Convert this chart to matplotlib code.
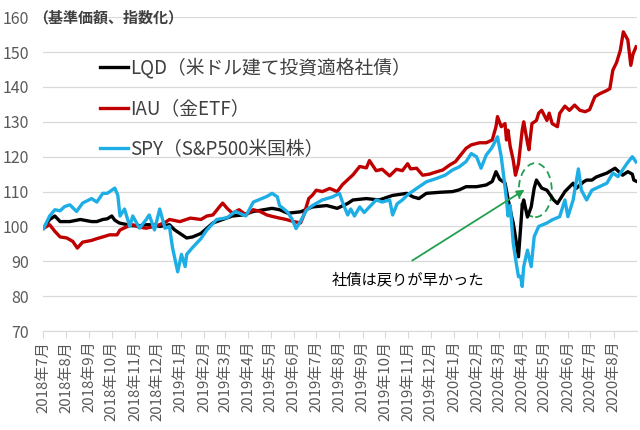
import matplotlib.pyplot as plt
import matplotlib.dates as mdates
from matplotlib.patches import Ellipse
import pandas as pd

plt.rcParams['font.family'] = ['Noto Sans CJK JP', 'DejaVu Sans']

# 基準価額（指数化）: 画像から読み取った値
lqd_dates = ['2018-07-02', '2018-07-10', '2018-07-17', '2018-07-24', '2018-08-06', '2018-08-20',
             '2018-09-04', '2018-09-11', '2018-09-19', '2018-09-25', '2018-10-01', '2018-10-05',
             '2018-10-11', '2018-10-22', '2018-10-29', '2018-11-07', '2018-11-16', '2018-11-26',
             '2018-12-04', '2018-12-17', '2018-12-24', '2018-12-31', '2019-01-09', '2019-01-17',
             '2019-01-28', '2019-02-05', '2019-02-13', '2019-02-26', '2019-03-11', '2019-03-25',
             '2019-04-08', '2019-04-22', '2019-05-03', '2019-05-13', '2019-05-24', '2019-06-10',
             '2019-06-26', '2019-07-15', '2019-07-29', '2019-08-12', '2019-08-19', '2019-09-06',
             '2019-09-23', '2019-10-11', '2019-10-30', '2019-11-07', '2019-11-15', '2019-11-25',
             '2019-12-13', '2019-12-30', '2020-01-08', '2020-01-17', '2020-01-31', '2020-02-13',
             '2020-02-21', '2020-02-26', '2020-03-02', '2020-03-09', '2020-03-13', '2020-03-18',
             '2020-03-20', '2020-03-23', '2020-03-27', '2020-03-30', '2020-04-01', '2020-04-03',
             '2020-04-06', '2020-04-08', '2020-04-13', '2020-04-17', '2020-04-20', '2020-04-27',
             '2020-05-04', '2020-05-13', '2020-05-18', '2020-05-28', '2020-06-08', '2020-06-12',
             '2020-06-22', '2020-06-26', '2020-07-03', '2020-07-09', '2020-07-23', '2020-08-03',
             '2020-08-13', '2020-08-20', '2020-08-26', '2020-08-28', '2020-08-31']
lqd_vals = [99.5, 102, 103, 101.4, 101.4, 102,
            101.4, 101.4, 102, 102.2, 103, 101.8,
            101, 100.5, 100.2, 100.2, 100.5, 100.5,
            100, 100.5, 99, 98, 96.7, 97,
            98, 99.5, 101, 102, 103, 103.3,
            104.3, 104.8, 105.2, 104.8, 103.8, 104.2,
            105.6, 106, 105.2, 106.6, 107.6, 108,
            107.6, 108.9, 109.5, 108.5, 108, 109.5,
            109.8, 110, 110.5, 111.4, 111.4, 111.9,
            112.9, 115.7, 113.5, 112.5, 108, 102.7,
            101, 97, 91.3, 100, 106, 107.6,
            104.7, 102.7, 105.6, 111, 113.3, 111,
            110.4, 107.6, 106.6, 110, 112.4, 110.9,
            112.8, 113.3, 113.3, 114.2, 115.3, 116.7,
            114.7, 115.7, 115, 113.3, 113]

iau_dates = ['2018-07-02', '2018-07-10', '2018-07-17', '2018-07-24', '2018-08-02', '2018-08-10',
             '2018-08-16', '2018-08-23', '2018-09-04', '2018-09-11', '2018-09-19', '2018-09-28',
             '2018-10-08', '2018-10-12', '2018-10-22', '2018-10-29', '2018-11-07', '2018-11-16',
             '2018-11-26', '2018-12-04', '2018-12-13', '2018-12-17', '2018-12-31', '2019-01-14',
             '2019-01-28', '2019-02-05', '2019-02-13', '2019-02-22', '2019-02-26', '2019-03-04',
             '2019-03-11', '2019-03-20', '2019-03-29', '2019-04-08', '2019-04-17', '2019-04-26',
             '2019-05-03', '2019-05-13', '2019-05-22', '2019-05-30', '2019-06-10', '2019-06-14',
             '2019-06-21', '2019-06-26', '2019-07-01', '2019-07-09', '2019-07-19', '2019-07-29',
             '2019-08-05', '2019-08-09', '2019-08-19', '2019-08-28', '2019-09-06', '2019-09-10',
             '2019-09-19', '2019-09-27', '2019-10-07', '2019-10-16', '2019-10-24', '2019-10-31',
             '2019-11-04', '2019-11-12', '2019-11-20', '2019-11-29', '2019-12-09', '2019-12-17',
             '2019-12-26', '2020-01-03', '2020-01-08', '2020-01-17', '2020-01-24', '2020-02-04',
             '2020-02-13', '2020-02-21', '2020-02-26', '2020-02-28', '2020-03-04', '2020-03-09',
             '2020-03-11', '2020-03-13', '2020-03-16', '2020-03-18', '2020-03-20', '2020-03-23',
             '2020-03-27', '2020-04-01', '2020-04-03', '2020-04-08', '2020-04-10', '2020-04-14',
             '2020-04-20', '2020-04-23', '2020-04-27', '2020-05-04', '2020-05-07', '2020-05-11',
             '2020-05-18', '2020-05-21', '2020-05-28', '2020-06-03', '2020-06-10', '2020-06-17',
             '2020-06-24', '2020-06-30', '2020-07-07', '2020-07-13', '2020-07-23', '2020-07-27',
             '2020-07-31', '2020-08-05', '2020-08-10', '2020-08-14', '2020-08-20', '2020-08-24',
             '2020-08-27', '2020-08-31']
iau_vals = [99.5, 100.5, 98.6, 97, 96.7, 95.7,
            93.8, 95.5, 96, 96.5, 97, 97.6,
            97.6, 99, 100, 100.5, 99.8, 99.5,
            100, 100.5, 101.4, 102, 101.4, 102.4,
            102, 103, 103.3, 105.7, 106.7, 105.2,
            103.8, 104.8, 103.3, 104.8, 104.3, 103.3,
            102.9, 102.4, 102, 101.5, 101, 103,
            108, 109, 110.4, 110, 110.9, 110,
            112, 112.8, 114.8, 117.2, 116.8, 118.9,
            116, 116.4, 114.5, 116.4, 116, 118,
            116.5, 116.7, 114.7, 115, 115.7, 116.2,
            117.6, 118.6, 120, 122.4, 123.4, 124,
            124, 124.8, 128.6, 131.5, 128.6, 129.5,
            124.8, 127.6, 122.9, 121, 119, 114.7,
            118, 127.6, 130, 124, 122, 129.5,
            130.4, 132.5, 133.3, 130.4, 132.5, 129.5,
            128.6, 132.4, 134.5, 133.3, 134.8, 133.3,
            132.9, 133.5, 137.2, 138, 139, 139.5,
            144.8, 147, 150.5, 155.8, 153.5, 146.2,
            149.5, 151.5]

spy_dates = ['2018-07-02', '2018-07-10', '2018-07-17', '2018-07-24', '2018-07-30', '2018-08-06',
             '2018-08-15', '2018-08-23', '2018-09-04', '2018-09-11', '2018-09-19', '2018-09-25',
             '2018-10-05', '2018-10-09', '2018-10-12', '2018-10-18', '2018-10-25', '2018-10-29',
             '2018-11-07', '2018-11-16', '2018-11-20', '2018-11-27', '2018-12-04', '2018-12-11',
             '2018-12-17', '2018-12-21', '2018-12-28', '2019-01-02', '2019-01-07', '2019-01-09',
             '2019-01-17', '2019-01-28', '2019-02-05', '2019-02-18', '2019-03-04', '2019-03-15',
             '2019-03-29', '2019-04-08', '2019-04-26', '2019-05-03', '2019-05-10', '2019-05-13',
             '2019-05-20', '2019-05-24', '2019-05-30', '2019-06-04', '2019-06-10', '2019-06-18',
             '2019-06-26', '2019-07-09', '2019-07-23', '2019-08-01', '2019-08-05', '2019-08-12',
             '2019-08-16', '2019-08-21', '2019-08-28', '2019-09-03', '2019-09-10', '2019-09-19',
             '2019-09-27', '2019-10-07', '2019-10-11', '2019-10-17', '2019-10-24', '2019-10-31',
             '2019-11-12', '2019-11-25', '2019-12-09', '2019-12-20', '2019-12-30', '2020-01-08',
             '2020-01-17', '2020-01-24', '2020-01-31', '2020-02-06', '2020-02-13', '2020-02-20',
             '2020-02-26', '2020-02-28', '2020-03-04', '2020-03-09', '2020-03-10', '2020-03-11',
             '2020-03-13', '2020-03-16', '2020-03-20', '2020-03-24', '2020-03-27', '2020-03-30',
             '2020-04-01', '2020-04-03', '2020-04-08', '2020-04-13', '2020-04-17', '2020-04-23',
             '2020-05-04', '2020-05-11', '2020-05-21', '2020-05-28', '2020-06-01', '2020-06-08',
             '2020-06-15', '2020-06-19', '2020-06-26', '2020-07-03', '2020-07-13', '2020-07-23',
             '2020-07-31', '2020-08-07', '2020-08-19', '2020-08-26', '2020-08-31']
spy_vals = [99.5, 103, 104.8, 104.5, 105.7, 106.2,
            104.3, 106.7, 108, 107, 109.5, 109.5,
            111, 109, 103, 105, 100, 103,
            99.5, 102, 103.3, 99, 105, 99.5,
            100, 94, 87, 92, 88.5, 92,
            94, 96.5, 99, 102, 102.5, 104.3,
            103, 107, 108.6, 109.5, 108.5, 106,
            104.8, 104, 102, 99.4, 101.5, 104.7,
            106, 107.6, 108.5, 109.5, 107, 103.3,
            105, 103, 105.6, 104, 105.6, 107.6,
            107, 107.6, 103.3, 106.5, 107.6, 109.1,
            110.9, 112.8, 113.8, 114.7, 116.2, 117.1,
            118.6, 120.9, 120, 116.7, 120.5, 122.4,
            124.8, 125.7, 120, 111.4, 109.5, 107.6,
            103, 106, 95.2, 89.5, 85.6, 85.7,
            82.8, 88.5, 93.2, 88.5, 97.1, 100,
            101, 101.9, 102.8, 107.6, 102.8, 107.6,
            116.5, 110.4, 107.6, 110.4, 111.4, 112.4,
            115.3, 114.3, 118.1, 120, 118.5]

series_names = ['LQD（米ドル建て投資適格社債）', 'IAU（金ETF）', 'SPY（S&P500米国株）']
series_colors = ['#000000', '#c00000', '#1eaee6']

month_starts = ['2018-07-01', '2018-08-01', '2018-09-01', '2018-10-01', '2018-11-01', '2018-12-01',
                '2019-01-01', '2019-02-01', '2019-03-01', '2019-04-01', '2019-05-01', '2019-06-01',
                '2019-07-01', '2019-08-01', '2019-09-01', '2019-10-01', '2019-11-01', '2019-12-01',
                '2020-01-01', '2020-02-01', '2020-03-01', '2020-04-01', '2020-05-01', '2020-06-01',
                '2020-07-01', '2020-08-01']
month_labels = ['2018年7月', '2018年8月', '2018年9月', '2018年10月', '2018年11月', '2018年12月',
                '2019年1月', '2019年2月', '2019年3月', '2019年4月', '2019年5月', '2019年6月',
                '2019年7月', '2019年8月', '2019年9月', '2019年10月', '2019年11月', '2019年12月',
                '2020年1月', '2020年2月', '2020年3月', '2020年4月', '2020年5月', '2020年6月',
                '2020年7月', '2020年8月']

fig = plt.figure(figsize=(6.4, 4.3), dpi=100)
ax = fig.add_axes([0.067, 0.23, 0.928, 0.73])

all_series = [(lqd_dates, lqd_vals), (iau_dates, iau_vals), (spy_dates, spy_vals)]
for (d, v), name, col in zip(all_series, series_names, series_colors):
    ax.plot(pd.to_datetime(d), v, color=col, lw=2.4, label=name, solid_joinstyle='round')

ax.set_ylim(70, 160)
ax.set_yticks(range(70, 161, 10))
ax.set_xlim(pd.Timestamp('2018-07-01'), pd.Timestamp('2020-09-01'))
ax.set_xticks(pd.to_datetime(month_starts))
ax.set_xticklabels(month_labels, rotation=90)

ax.grid(axis='y', color='#d9d9d9', lw=0.9)
ax.set_axisbelow(True)
for s in ['left', 'right', 'top']:
    ax.spines[s].set_visible(False)
ax.spines['bottom'].set_color('#d9d9d9')
ax.tick_params(axis='y', length=0, labelsize=11.5, labelcolor='#595959', pad=10)
ax.tick_params(axis='x', length=5, color='#d9d9d9', labelsize=10.8, labelcolor='#595959', pad=2)

fig.text(33 / 640, 1 - 17 / 430, '（基準価額、指数化）', ha='left', va='center',
         fontsize=10.8, fontweight='bold', color='#404040')

ax.legend(loc='upper left', bbox_to_anchor=(0.096, 0.872), frameon=False, fontsize=13.5,
          handlelength=1.5, handletextpad=0.1, labelspacing=1.05, borderpad=0,
          borderaxespad=0, labelcolor='#404040')

# 注記
green = '#22a050'
ax.annotate('', xy=(0.815, 0.455), xytext=(0.618, 0.220), xycoords='axes fraction',
            arrowprops=dict(arrowstyle='-|>', color=green, lw=1.3, mutation_scale=11))
ax.text(0.615, 0.162, '社債は戻りが早かった', transform=ax.transAxes, ha='center',
        va='center', fontsize=11, color='#000000')
ax.add_patch(Ellipse((0.829, 0.449), 0.0556, 0.172, transform=ax.transAxes, fill=False,
                     edgecolor=green, lw=1.3, ls=(0, (4, 2.5))))

fig.savefig('out.png', dpi=100)
